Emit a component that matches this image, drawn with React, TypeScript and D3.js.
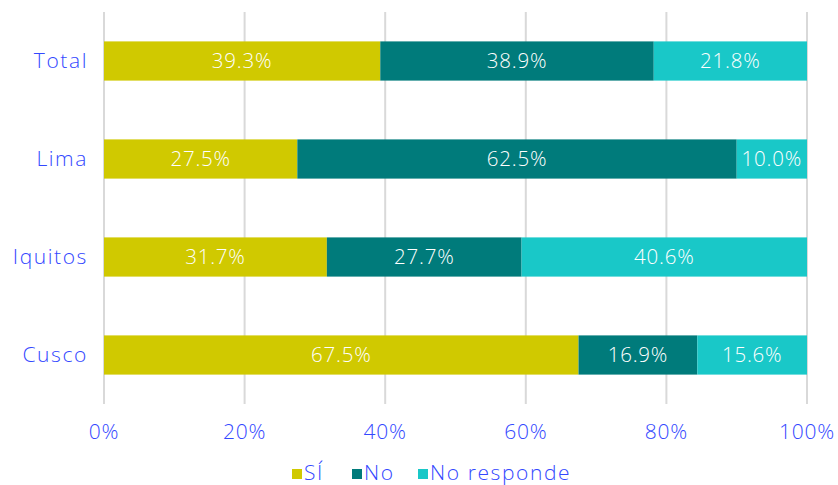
import { useEffect, useRef } from 'react';
import * as d3 from 'd3';

const categories = ['Total', 'Lima', 'Iquitos', 'Cusco'];
const seriesNames = ['SÍ', 'No', 'No responde'];
const si = [39.3, 27.5, 31.7, 67.5];
const no = [38.9, 62.5, 27.7, 16.9];
const noResponde = [21.8, 10.0, 40.6, 15.6];
const colors = ['#d0c900', '#007b7b', '#19c8c8'];
const xTicks = [0, 20, 40, 60, 80, 100];

const App = () => {
  const svgRef = useRef<SVGSVGElement | null>(null);

  useEffect(() => {
    const svg = d3.select(svgRef.current);
    svg.selectAll('*').remove();
    const width = 838;
    const height = 485;
    const font = "'Open Sans', 'Noto Sans', sans-serif";
    const blue = '#3348ff';

    // plot area
    const x = d3.scaleLinear().domain([0, 100]).range([104, 807]);
    const y = d3.scaleBand()
      .domain(categories)
      .range([12, 404])
      .paddingInner(0.6)
      .paddingOuter(0.3);

    svg.attr('width', width).attr('height', height);

    // gridlines
    svg.append('g')
      .selectAll('line')
      .data(xTicks)
      .enter()
      .append('line')
      .attr('x1', d => x(d))
      .attr('x2', d => x(d))
      .attr('y1', 12)
      .attr('y2', 404)
      .attr('stroke', '#d9d9d9')
      .attr('stroke-width', 2);

    const rows = categories.map((c, i) => ({ cat: c, vals: [si[i], no[i], noResponde[i]] }));
    const stack = d3.stack<{ cat: string; vals: number[] }, number>()
      .keys([0, 1, 2])
      .value((d, k) => d.vals[k]);
    const layers = stack(rows);

    const styleText = (sel: any, size: number, spacing: number) =>
      sel.attr('font-family', font)
        .attr('font-weight', 300)
        .attr('font-style', 'normal')
        .attr('font-size', size)
        .attr('letter-spacing', spacing);

    layers.forEach((layer, k) => {
      const g = svg.append('g');
      g.selectAll('rect')
        .data(layer)
        .enter()
        .append('rect')
        .attr('x', d => x(d[0]))
        .attr('y', d => y(d.data.cat)!)
        .attr('width', d => x(d[1]) - x(d[0]))
        .attr('height', y.bandwidth())
        .attr('fill', colors[k]);
      g.selectAll('text')
        .data(layer)
        .enter()
        .append('text')
        .attr('x', d => (x(d[0]) + x(d[1])) / 2)
        .attr('y', d => y(d.data.cat)! + y.bandwidth() / 2)
        .attr('dy', '0.35em')
        .attr('text-anchor', 'middle')
        .attr('fill', '#fff')
        .call(styleText, 20.5, 0.8)
        .text(d => (d[1] - d[0]).toFixed(1) + '%');
    });

    // category labels
    svg.append('g')
      .selectAll('text')
      .data(categories)
      .enter()
      .append('text')
      .attr('x', 88)
      .attr('y', d => y(d)! + y.bandwidth() / 2)
      .attr('dy', '0.35em')
      .attr('text-anchor', 'end')
      .attr('fill', blue)
      .call(styleText, 21, 1.6)
      .text(d => d);

    // x tick labels
    svg.append('g')
      .selectAll('text')
      .data(xTicks)
      .enter()
      .append('text')
      .attr('x', d => x(d))
      .attr('y', 432)
      .attr('dy', '0.35em')
      .attr('text-anchor', 'middle')
      .attr('fill', blue)
      .call(styleText, 21, 0.8)
      .text(d => d + '%');

    // legend
    const legendX = [292, 352, 418];
    const lg = svg.append('g');
    seriesNames.forEach((name, i) => {
      lg.append('rect')
        .attr('x', legendX[i])
        .attr('y', 469)
        .attr('width', 10)
        .attr('height', 10)
        .attr('fill', colors[i]);
      lg.append('text')
        .attr('x', legendX[i] + 12)
        .attr('y', 473)
        .attr('dy', '0.35em')
        .attr('fill', blue)
        .call(styleText, 21, 1.6)
        .text(name);
    });
  }, []);

  return <svg ref={svgRef} style={{ position: 'absolute', left: 0, top: 0 }}></svg>;
};

export default App;
